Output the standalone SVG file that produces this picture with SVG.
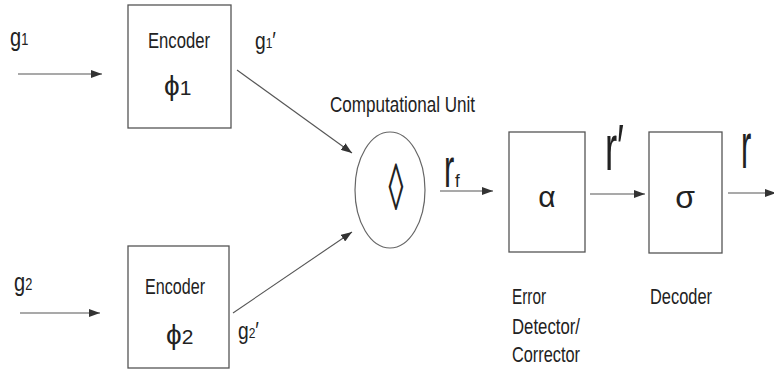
<svg xmlns="http://www.w3.org/2000/svg" width="774" height="373" viewBox="0 0 774 373">
<style>
text{font-family:"Liberation Sans","DejaVu Sans",sans-serif;fill:#222}
.box{fill:none;stroke:#555;stroke-width:1.3}
.lbl{font-size:22px}
.sym{font-size:28px}
.conn line{stroke:#555;stroke-width:1.1}
</style>
<defs>
<marker id="ah" markerUnits="userSpaceOnUse" markerWidth="11" markerHeight="8" refX="11" refY="4" orient="auto">
<path d="M0,0 L11,4 L0,8 z" fill="#333"/>
</marker>
</defs>
<rect width="774" height="373" fill="#fff"/>

<g id="in1">
<text transform="translate(10,46) scale(0.8,1)" font-size="25">g<tspan font-size="16" dy="-1">1</tspan></text>
</g>
<g id="in2">
<text transform="translate(14,291) scale(0.8,1)" font-size="25">g<tspan font-size="16" dy="-1">2</tspan></text>
</g>

<g id="encoder1">
<rect class="box" x="128" y="5" width="103" height="123"/>
<text class="lbl" x="148" y="48" textLength="62" lengthAdjust="spacingAndGlyphs">Encoder</text>
<text class="sym" x="164" y="95">ϕ<tspan font-size="21">1</tspan></text>
</g>
<g id="encoder2">
<rect class="box" x="128" y="246" width="101" height="122"/>
<text class="lbl" x="145" y="294" textLength="60" lengthAdjust="spacingAndGlyphs">Encoder</text>
<text class="sym" x="166" y="344">ϕ<tspan font-size="21">2</tspan></text>
</g>

<g id="g1p"><text transform="translate(255,49) scale(0.8,1)" font-size="24">g<tspan font-size="15" dy="-1">1</tspan><tspan dy="1">′</tspan></text></g>
<g id="g2p"><text transform="translate(238,339) scale(0.8,1)" font-size="24">g<tspan font-size="15" dy="-1">2</tspan><tspan dy="1">′</tspan></text></g>

<g id="computational-unit">
<text class="lbl" x="330" y="112" textLength="145" lengthAdjust="spacingAndGlyphs">Computational Unit</text>
<ellipse cx="390" cy="190" rx="35" ry="58" fill="none" stroke="#666" stroke-width="1.2"/>
<text transform="translate(396,210) scale(1,2.2)" text-anchor="middle" font-size="30">◊</text>
</g>

<g id="rf"><text transform="translate(444,187) scale(1.1,2)" font-size="28">r</text><text transform="translate(455,187) scale(0.9,1)" font-size="19">f</text></g>

<g id="error-detector">
<rect class="box" x="509" y="132" width="76" height="120"/>
<text x="547" y="207" text-anchor="middle" font-size="30">α</text>
<text class="lbl" x="512" y="304" textLength="34" lengthAdjust="spacingAndGlyphs">Error</text>
<text class="lbl" x="512" y="334" textLength="68" lengthAdjust="spacingAndGlyphs">Detector/</text>
<text class="lbl" x="512" y="362" textLength="68" lengthAdjust="spacingAndGlyphs">Corrector</text>
</g>

<g id="rprime"><text transform="translate(605,170) scale(1.3,2.3)" font-size="28">r′</text></g>

<g id="decoder">
<rect class="box" x="649" y="132" width="73" height="121"/>
<text x="685" y="208" text-anchor="middle" font-size="32">σ</text>
<text class="lbl" x="650" y="304" textLength="62" lengthAdjust="spacingAndGlyphs">Decoder</text>
</g>

<g id="rout"><text transform="translate(741,168) scale(1.1,2.3)" font-size="28">r</text></g>

<g id="connectors" class="conn">
<line x1="18" y1="74" x2="102" y2="74" marker-end="url(#ah)"/>
<line x1="20" y1="313" x2="100" y2="313" marker-end="url(#ah)"/>
<line x1="237" y1="70" x2="352" y2="153" marker-end="url(#ah)"/>
<line x1="233" y1="313" x2="352" y2="232" marker-end="url(#ah)"/>
<line x1="440" y1="191" x2="493" y2="191" marker-end="url(#ah)"/>
<line x1="590" y1="194" x2="645" y2="194" marker-end="url(#ah)"/>
<line x1="728" y1="193" x2="776" y2="193" marker-end="url(#ah)"/>
</g>
</svg>
